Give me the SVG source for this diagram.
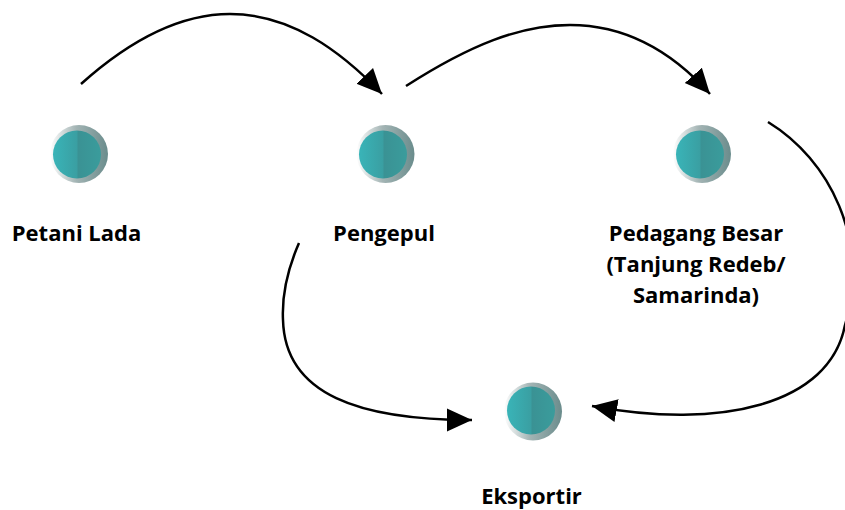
<svg xmlns="http://www.w3.org/2000/svg" width="845" height="510" viewBox="0 0 845 510">
<style>
.lbl{font-family:"Open Sans","Noto Sans",sans-serif;font-weight:bold;font-size:22px;fill:#000;text-anchor:middle}
.con{fill:none;stroke:#000;stroke-width:2.5}
.outer{fill:url(#gOuter)}
.inner{fill:url(#gInner)}
</style>
<defs>
<linearGradient id="gOuter" x1="0" y1="0" x2="1" y2="0">
<stop offset="0" stop-color="#ffffff"/>
<stop offset="0.45" stop-color="#a3b4b4"/>
<stop offset="1" stop-color="#6a8c8c"/>
</linearGradient>
<linearGradient id="gInner" x1="0" y1="0" x2="1" y2="0">
<stop offset="0" stop-color="#39b4b8"/>
<stop offset="0.5" stop-color="#3a9fa2"/>
<stop offset="0.52" stop-color="#3a9294"/>
<stop offset="1" stop-color="#3a9c9c"/>
</linearGradient>
<marker id="ah" markerUnits="userSpaceOnUse" markerWidth="26" markerHeight="24" refX="25" refY="11.5" orient="auto" viewBox="0 0 26 23">
<path d="M0,0 L25,11.5 L0,23 Z" fill="#000"/>
</marker>
</defs>
<g id="connectors">
<path class="con" marker-end="url(#ah)" d="M81,84 C130,40 180,14 230,14 C290,14 340,50 382,94"/>
<path class="con" marker-end="url(#ah)" d="M406,86 C470,45 520,25 570,25 C630,25 675,55 710,94"/>
<path class="con" marker-end="url(#ah)" d="M768,122 C830,160 870,240 845,325 C830,405 720,430 592,406"/>
<path class="con" marker-end="url(#ah)" d="M299,243 C285,275 282,300 283,320 C285,395 360,420 472,420"/>
</g>
<g id="node-petani">
<circle class="outer" cx="79" cy="154" r="29"/>
<circle class="inner" cx="77" cy="154.5" r="24"/>
<text class="lbl" x="76.5" y="241">Petani Lada</text>
</g>
<g id="node-pengepul">
<circle class="outer" cx="385.5" cy="154" r="29"/>
<circle class="inner" cx="383" cy="154.5" r="24"/>
<text class="lbl" x="384" y="241">Pengepul</text>
</g>
<g id="node-pedagang">
<circle class="outer" cx="702" cy="154" r="29"/>
<circle class="inner" cx="700" cy="154.5" r="24"/>
<text class="lbl" x="696" y="241">Pedagang Besar</text>
<text class="lbl" x="696" y="272">(Tanjung Redeb/</text>
<text class="lbl" x="696" y="303">Samarinda)</text>
</g>
<g id="node-eksportir">
<circle class="outer" cx="533" cy="411.5" r="29"/>
<circle class="inner" cx="531" cy="410.5" r="24"/>
<text class="lbl" x="531.5" y="504">Eksportir</text>
</g>
</svg>
